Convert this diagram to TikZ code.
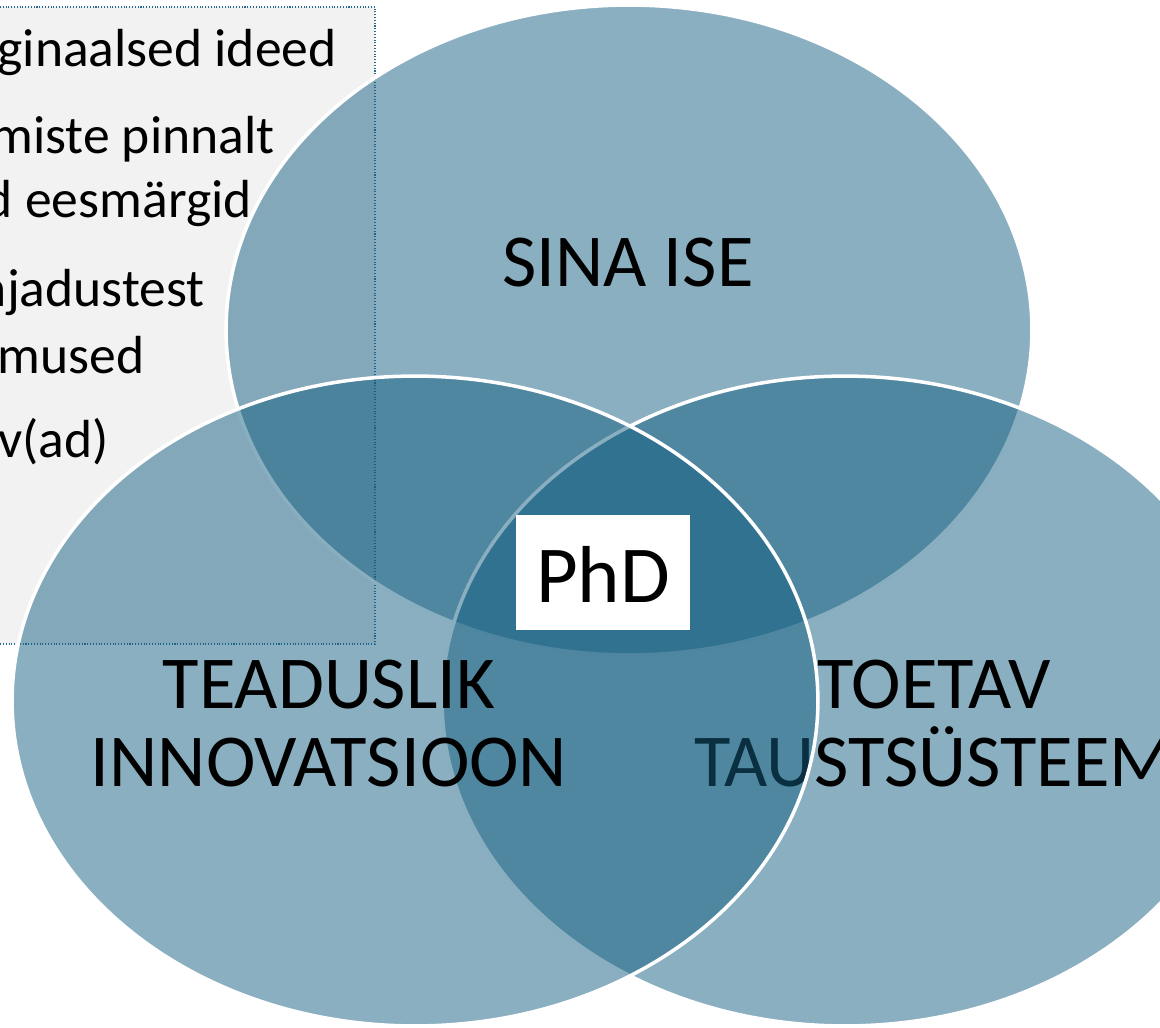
\documentclass[tikz,border=0pt]{standalone}
\usepackage{fontspec}
\setmainfont{Carlito}
\usetikzlibrary{shapes.geometric}
\definecolor{vennblue}{RGB}{21,95,130}
\definecolor{panelgrey}{RGB}{242,242,242}
\definecolor{dotblue}{RGB}{40,105,145}
\tikzset{
  venn/.style={ellipse, inner sep=0pt, minimum width=16.12cm, minimum height=13cm,
    fill=vennblue, fill opacity=0.5, draw=white, draw opacity=1, line width=2pt},
  vlabel/.style={font=\fontsize{42.5}{44.2}\selectfont, align=center, anchor=base, inner sep=0pt, text=black},
  panelline/.style={font=\fontsize{30.5}{34}\selectfont, anchor=base east, inner sep=0pt, text=black},
}
\begin{document}
\begin{tikzpicture}[x=0.02cm, y=-0.02cm]
  \useasboundingbox (0,0) rectangle (1160,1028);
  \clip (0,0) rectangle (1160,1028);

  % side panel with bullet text
  \draw[fill=panelgrey, draw=dotblue, densely dotted, line width=0.6pt] (-60,7) rectangle (375,644);
  \node[panelline] (p1) at (337,66) {ginaalsed ideed};
  \node[panelline] (p2) at (275,153) {miste pinnalt};
  \node[panelline] (p3) at (252,217) {d eesmärgid};
  \node[panelline] (p4) at (205,306) {njadustest};
  \node[panelline] (p5) at (145,373) {mused};
  \node[panelline] (p6) at (109,457) {v(ad)};

  % three overlapping circles
  \node[venn] (top) at (629,330) {};
  \node[vlabel] (toplab) at (628,286) {SINA ISE};

  \node[venn] (right) at (845,701) {};
  \node[vlabel] (rightlab) at (934,786) {TOETAV\\TAUSTSÜSTEEM};

  \node[venn] (left) at (415,701) {};
  \node[vlabel] (leftlab) at (329,786) {TEADUSLIK\\INNOVATSIOON};

  % centre label
  \fill[white] (516,515) rectangle (690,630);
  \node[font=\fontsize{46}{50}\selectfont, anchor=base, inner sep=0pt] (phd) at (603,602) {PhD};
\end{tikzpicture}
\end{document}
